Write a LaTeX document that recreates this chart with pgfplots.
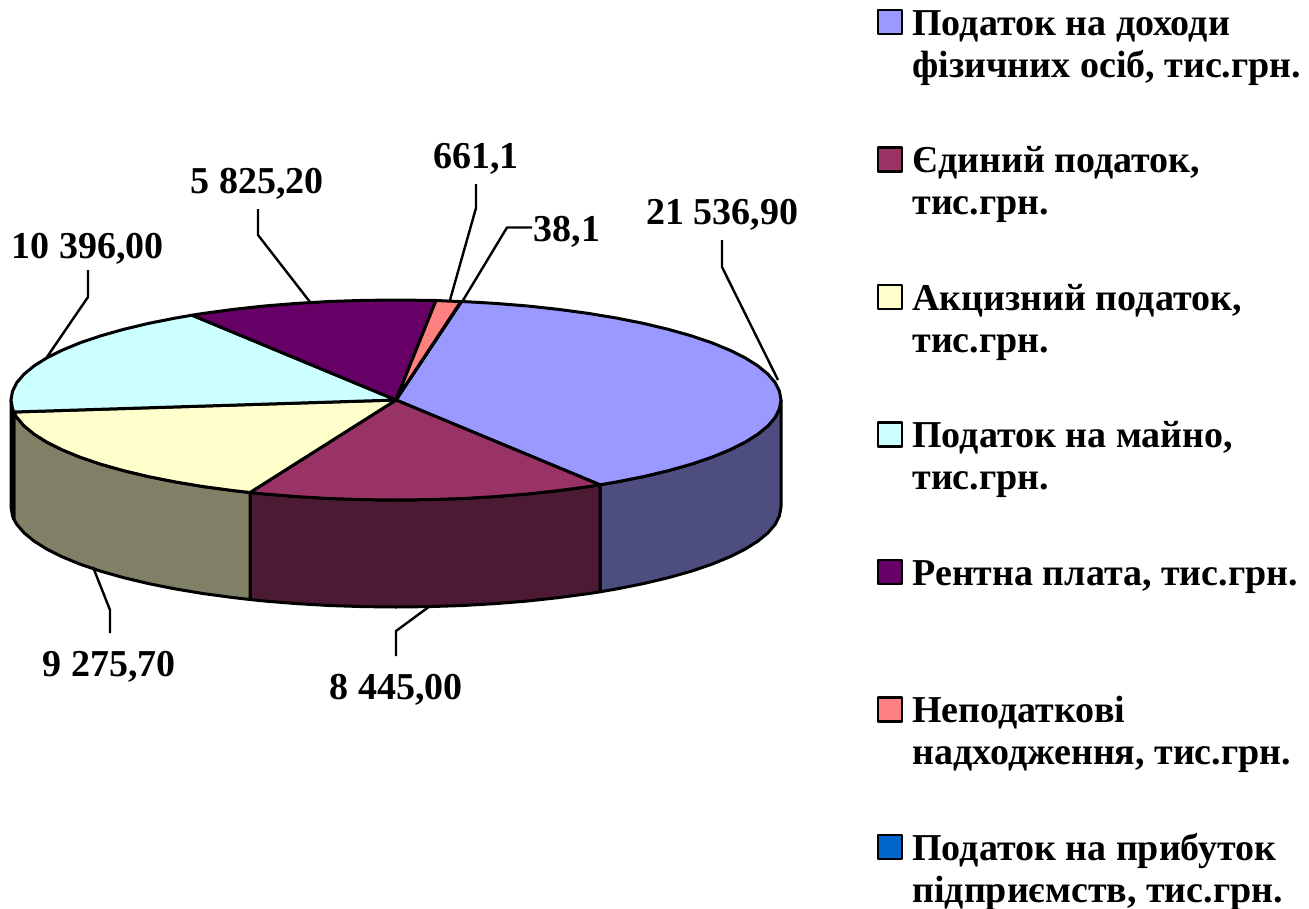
\documentclass[border=0pt]{standalone}
\usepackage{fontspec}
\setmainfont{Liberation Serif}
\usepackage{pgfplots}
\pgfplotsset{compat=1.18}
\definecolor{s1}{HTML}{9999FF}\definecolor{s2}{HTML}{993366}\definecolor{s3}{HTML}{FFFFCC}
\definecolor{s4}{HTML}{CCFFFF}\definecolor{s5}{HTML}{660066}\definecolor{s6}{HTML}{FF8080}
\definecolor{s7}{HTML}{0066CC}
\definecolor{d1}{HTML}{4D4D80}\definecolor{d2}{HTML}{4D1A33}\definecolor{d3}{HTML}{808066}\definecolor{d4}{HTML}{668080}
\newcommand{\LE}[3][-60.5pt]{\parbox[t]{392pt}{\rule{0pt}{35pt}#2\\#3\rule[#1]{0pt}{1pt}}}
\tikzset{lbl/.style={font=\fontsize{38}{42}\selectfont\bfseries, inner sep=0pt}}
\begin{document}
\begin{tikzpicture}
\useasboundingbox (0,0) rectangle (1309pt,908pt);
\begin{axis}[
  at={(0,0)}, anchor=south west,
  scale only axis, width=1309pt, height=908pt, xmin=0, xmax=1309, ymin=0, ymax=908,
  y dir=reverse, hide axis, clip=false,
  legend image code/.code={\draw[#1,line width=2.4pt] (0pt,1pt) rectangle (24pt,25pt);},
  legend style={at={(axis cs:877,0)}, anchor=north west, draw=none, fill=none, inner sep=0pt, outer sep=0pt,
    row sep=0pt, font=\fontsize{38}{42}\selectfont\bfseries,
    nodes={inner sep=0pt, outer sep=0pt, text depth=},
    cells={anchor=base west},
    /tikz/every odd column/.append style={column sep=9pt}},
  every axis plot/.append style={line width=3pt, line join=round, draw=black},
]
% side walls
\addplot[fill=d1, forget plot] coordinates {(781,400)(779.5,408.7)(775.2,417.4)(767.9,425.9)(757.8,434.2)(744.9,442.3)(729.4,450)(711.4,457.4)(690.9,464.3)(668.2,470.7)(643.5,476.6)(616.8,481.9)(600,484.8)
 (600,591.8)(616.8,588.9)(643.5,583.6)(668.2,577.7)(690.9,571.3)(711.4,564.4)(729.4,557)(744.9,549.3)(757.8,541.2)(767.9,532.9)(775.2,524.4)(779.5,515.7)(781,507)} -- cycle;
\addplot[fill=d2, forget plot] coordinates {(600,484.8)(588.5,486.6)(558.7,490.6)(527.7,494)(495.6,496.6)(462.8,498.5)(429.6,499.6)(396,500)(362.4,499.6)(329.2,498.5)(296.4,496.6)(264.3,494)(250,492.5)
 (250,599.5)(264.3,601)(296.4,603.6)(329.2,605.5)(362.4,606.6)(396,607)(429.6,606.6)(462.8,605.5)(495.6,603.6)(527.7,601)(558.7,597.6)(588.5,593.6)(600,591.8)} -- cycle;
\addplot[fill=d3, forget plot] coordinates {(250,492.5)(233.3,490.6)(203.5,486.6)(175.2,481.9)(148.5,476.6)(123.8,470.7)(101.1,464.3)(80.6,457.4)(62.6,450)(47.1,442.3)(34.2,434.2)(24.1,425.9)(16.8,417.4)(13.8,412)
 (13.8,519)(16.8,524.4)(24.1,532.9)(34.2,541.2)(47.1,549.3)(62.6,557)(80.6,564.4)(101.1,571.3)(123.8,577.7)(148.5,583.6)(175.2,588.9)(203.5,593.6)(233.3,597.6)(250,599.5)} -- cycle;
\addplot[fill=d4, forget plot] coordinates {(13.8,412)(12.5,408.7)(11,400)(11,507)(12.5,515.7)(13.8,519)} -- cycle;
% top sectors
\addplot[fill=s1] coordinates {(396,400)(461,301.6)(462.8,301.5)(495.6,303.4)(527.7,306)(558.7,309.4)(588.5,313.4)(616.8,318.1)(643.5,323.4)(668.2,329.3)(690.9,335.7)(711.4,342.6)(729.4,350)(744.9,357.7)(757.8,365.8)(767.9,374.1)(775.2,382.6)(779.5,391.3)(781,400)(779.5,408.7)(775.2,417.4)(767.9,425.9)(757.8,434.2)(744.9,442.3)(729.4,450)(711.4,457.4)(690.9,464.3)(668.2,470.7)(643.5,476.6)(616.8,481.9)(600,484.8)} -- cycle;
\addlegendentry{\LE{Податок на доходи}{фізичних осіб, тис.грн.}}
\addplot[fill=s2] coordinates {(396,400)(600,484.8)(588.5,486.6)(558.7,490.6)(527.7,494)(495.6,496.6)(462.8,498.5)(429.6,499.6)(396,500)(362.4,499.6)(329.2,498.5)(296.4,496.6)(264.3,494)(250,492.5)} -- cycle;
\addlegendentry{\LE{Єдиний податок,}{тис.грн.}}
\addplot[fill=s3] coordinates {(396,400)(250,492.5)(233.3,490.6)(203.5,486.6)(175.2,481.9)(148.5,476.6)(123.8,470.7)(101.1,464.3)(80.6,457.4)(62.6,450)(47.1,442.3)(34.2,434.2)(24.1,425.9)(16.8,417.4)(13.8,412)} -- cycle;
\addlegendentry{\LE{Акцизний податок,}{тис.грн.}}
\addplot[fill=s4] coordinates {(396,400)(13.8,412)(12.5,408.7)(11,400)(12.5,391.3)(16.8,382.6)(24.1,374.1)(34.2,365.8)(47.1,357.7)(62.6,350)(80.6,342.6)(101.1,335.7)(123.8,329.3)(148.5,323.4)(175.2,318.1)(192,315.2)} -- cycle;
\addlegendentry{\LE{Податок на майно,}{тис.грн.}}
\addplot[fill=s5] coordinates {(396,400)(192,315.2)(203.5,313.4)(233.3,309.4)(264.3,306)(296.4,303.4)(329.2,301.5)(362.4,300.4)(396,300)(429.6,300.4)(436,300.5)} -- cycle;
\addlegendentry{\parbox[t]{392pt}{\rule[-102.5pt]{0pt}{137.5pt}Рентна плата, тис.грн.}}
\addplot[fill=s6] coordinates {(396,400)(436,300.5)(461,301.6)} -- cycle;
\addlegendentry{\LE{Неподаткові}{надходження, тис.грн.}}
\addplot[fill=s7] coordinates {(396,400)(461,301.6)(461.6,301.6)} -- cycle;
\addlegendentry{\LE[-10pt]{Податок на прибуток}{підприємств, тис.грн.}}
% leader lines
\addplot[no marks, line width=2.4pt, forget plot] coordinates {(722,240)(722,267)(778,380)};
\addplot[no marks, line width=2.4pt, forget plot] coordinates {(88,270)(88,297)(47,357)};
\addplot[no marks, line width=2.4pt, forget plot] coordinates {(258,209)(258,235)(310,302)};
\addplot[no marks, line width=2.4pt, forget plot] coordinates {(476,184)(476,208)(450,300)};
\addplot[no marks, line width=2.4pt, forget plot] coordinates {(532,227.5)(507,227.5)(462,302)};
\addplot[no marks, line width=2.4pt, forget plot] coordinates {(110,633)(110,610)(93,567)};
\addplot[no marks, line width=2.4pt, forget plot] coordinates {(396,656)(396,631)(430,606)};
% data labels
\node[lbl] at (axis cs:722,215) {21 536,90};
\node[lbl] at (axis cs:476,159) {661,1};
\node[lbl] at (axis cs:567,232) {38,1};
\node[lbl] at (axis cs:257,184) {5 825,20};
\node[lbl] at (axis cs:88,249) {10 396,00};
\node[lbl] at (axis cs:109,667) {9 275,70};
\node[lbl] at (axis cs:396,690) {8 445,00};
\end{axis}
\end{tikzpicture}
\end{document}
